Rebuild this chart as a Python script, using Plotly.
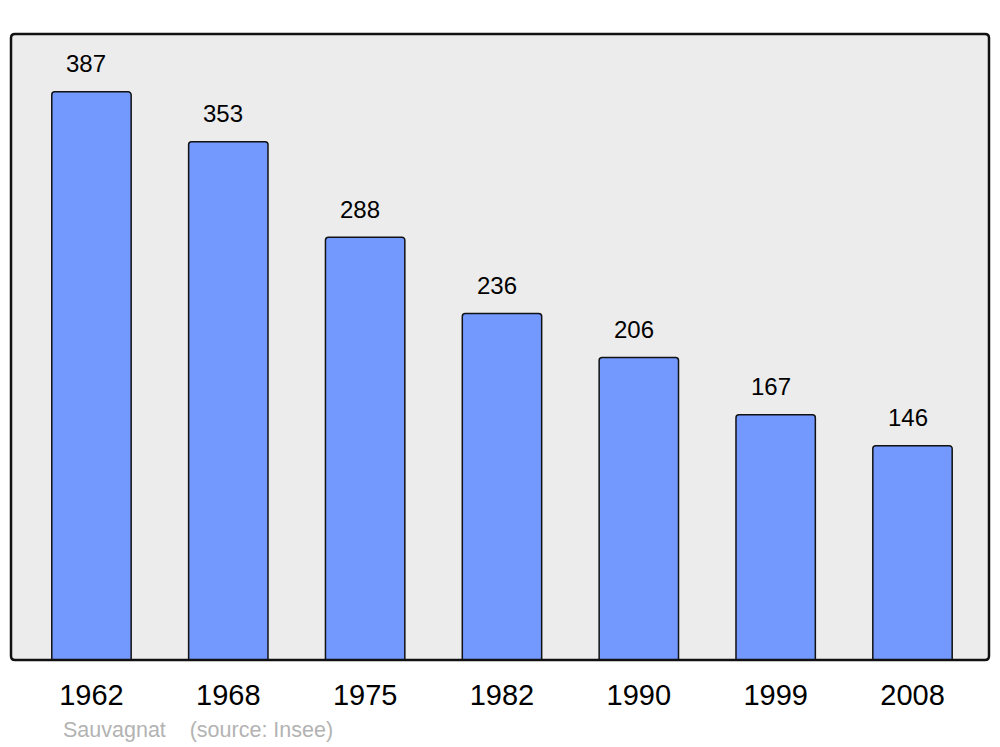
import plotly.graph_objects as go

years = ["1962", "1968", "1975", "1982", "1990", "1999", "2008"]
population = [387, 353, 288, 236, 206, 167, 146]
source_text = "Sauvagnat    (source: Insee)"

# page is rendered with an 8px body offset; compensate in margins
OFF = 8
W, H = 1000, 747
L, R, T, B = 11 - OFF, 11 + OFF, 34 - OFF, 87 + OFF
pw, ph = W - L - R, H - T - B

xs = list(range(len(years)))

fig = go.Figure()
fig.add_trace(go.Bar(
    x=xs, y=population, width=0.58,
    marker=dict(color="#7399ff", line=dict(color="#111111", width=1.5), cornerradius=3),
    hoverinfo="skip",
))

for x, v in zip(xs, population):
    fig.add_annotation(x=x, y=v, text=str(v), showarrow=False,
                       xanchor="center", yanchor="middle", xshift=-5, yshift=28,
                       font=dict(family="Liberation Sans, Arial", size=24, color="#000"))

fig.add_annotation(xref="paper", yref="paper", x=(61 - 11) / pw, y=(660 - 730) / ph,
                   text=source_text, showarrow=False, xanchor="left", yanchor="middle",
                   font=dict(family="Liberation Sans, Arial", size=21.5, color="#b3b3b3"))

# rounded plot border
rx, ry = 4 / pw, 4 / ph
path = (f"M{rx},0 L{1-rx},0 Q1,0 1,{ry} L1,{1-ry} Q1,1 {1-rx},1 "
        f"L{rx},1 Q0,1 0,{1-ry} L0,{ry} Q0,0 {rx},0 Z")
fig.add_shape(type="path", xref="paper", yref="paper", path=path,
              line=dict(color="#111111", width=2.5), layer="above")

fig.update_layout(
    width=W, height=H,
    margin=dict(l=L, r=R, t=T, b=B),
    paper_bgcolor="white", plot_bgcolor="#ececec",
    showlegend=False,
    xaxis=dict(tickmode="array", tickvals=xs, ticktext=years, range=[-0.588, 6.559],
               showgrid=False, zeroline=False, ticks="", ticklabelstandoff=15,
               tickfont=dict(family="Liberation Sans, Arial", size=29, color="#000")),
    yaxis=dict(range=[0, 426.4], showgrid=False, zeroline=False, showticklabels=False, ticks=""),
)

fig.write_html("out.html")
